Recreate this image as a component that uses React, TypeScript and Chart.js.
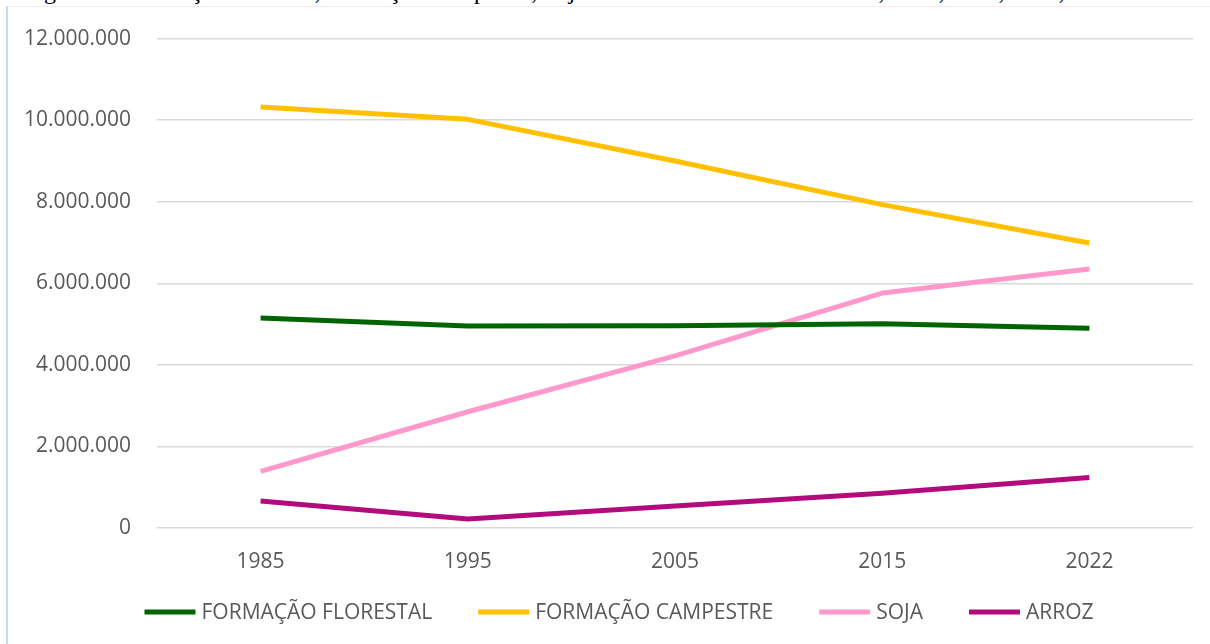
import { useEffect, useRef } from "react";
import { Chart, registerables } from "chart.js";

Chart.register(...registerables);

// Área (ha) por classe de cobertura e ano
const years = ["1985", "1995", "2005", "2015", "2022"];
const florestal = [5150000, 4950000, 4960000, 5010000, 4900000];
const campestre = [10320000, 10020000, 9000000, 7930000, 6990000];
const soja = [1390000, 2850000, 4220000, 5760000, 6350000];
const arroz = [660000, 220000, 540000, 850000, 1240000];

const seriesLabels = ["FORMAÇÃO FLORESTAL", "FORMAÇÃO CAMPESTRE", "SOJA", "ARROZ"];
const seriesColors = ["#006400", "#FFC000", "#FF99CC", "#B30A7C"];

const yMin = 0;
const yMax = 12000000;
const yStep = 2000000;

const caption =
  "Figura 1 – Formação Florestal, Formação Campestre, Soja e Arroz no Rio Grande do Sul, 1985, 1995, 2005, 2015 e 2022";

const FONT = "'Open Sans', 'Noto Sans', sans-serif";
const TEXT_COLOR = "#595959";
const FONT_SIZE = 21;

const formatThousands = (v: number) =>
  Math.round(v)
    .toString()
    .replace(/\B(?=(\d{3})+(?!\d))/g, ".");

// Legend drawn under the axis: a short line sample followed by the series name
const lineLegend = {
  id: "lineLegend",
  afterDraw(chart: any) {
    const { ctx } = chart;
    const sample = 51;
    const gap = 6;
    const spacing = 46;
    const centerX = 619;
    const centerY = 613;
    ctx.save();
    ctx.font = `${FONT_SIZE}px ${FONT}`;
    ctx.textBaseline = "middle";
    ctx.textAlign = "left";
    const items = chart.data.datasets.map((ds: any) => ({
      label: ds.label as string,
      color: ds.borderColor as string,
      width: ctx.measureText(ds.label).width,
    }));
    const total =
      items.reduce((s: number, it: any) => s + sample + gap + it.width, 0) +
      spacing * (items.length - 1);
    let x = centerX - total / 2;
    for (const it of items) {
      ctx.strokeStyle = it.color;
      ctx.lineWidth = 5;
      ctx.lineCap = "butt";
      ctx.beginPath();
      ctx.moveTo(x, centerY - 1);
      ctx.lineTo(x + sample, centerY - 1);
      ctx.stroke();
      ctx.fillStyle = TEXT_COLOR;
      ctx.fillText(it.label, x + sample + gap, centerY);
      x += sample + gap + it.width + spacing;
    }
    ctx.restore();
  },
};

export default function App() {
  const canvasRef = useRef<HTMLCanvasElement | null>(null);

  useEffect(() => {
    const canvas = canvasRef.current;
    if (!canvas) return;
    const values = [florestal, campestre, soja, arroz];
    const chart = new Chart(canvas, {
      type: "line",
      data: {
        labels: years,
        datasets: values.map((data, i) => ({
          label: seriesLabels[i],
          data,
          borderColor: seriesColors[i],
          backgroundColor: seriesColors[i],
          borderWidth: 5,
          borderJoinStyle: "round" as const,
          borderCapStyle: "butt" as const,
          pointRadius: 0,
          pointHoverRadius: 0,
          tension: 0,
          fill: false,
        })),
      },
      options: {
        responsive: false,
        animation: false,
        devicePixelRatio: 1,
        layout: { padding: { top: 36, right: 17, bottom: 66, left: 0 } },
        plugins: {
          legend: { display: false },
          tooltip: { enabled: false },
        },
        scales: {
          x: {
            offset: true,
            grid: { display: false, drawTicks: false },
            border: { display: false },
            ticks: {
              color: TEXT_COLOR,
              font: { family: FONT, size: FONT_SIZE },
              padding: 21,
              maxRotation: 0,
            },
            afterFit: (s: any) => {
              s.height = 50;
            },
          },
          y: {
            min: yMin,
            max: yMax,
            grid: { color: "#d9d9d9", lineWidth: 1.5, drawTicks: false },
            border: { display: false },
            ticks: {
              stepSize: yStep,
              color: TEXT_COLOR,
              font: { family: FONT, size: FONT_SIZE },
              padding: 26,
              callback: (v: any) => formatThousands(Number(v)),
            },
            afterFit: (s: any) => {
              s.width = 157;
            },
          },
        },
      },
      plugins: [lineLegend],
    });
    return () => chart.destroy();
  }, []);

  return (
    <div
      style={{
        position: "fixed",
        left: 0,
        top: 0,
        width: 1210,
        height: 644,
        overflow: "hidden",
        background: "#ffffff",
      }}
    >
      <div
        style={{
          position: "absolute",
          left: 24,
          top: -23,
          whiteSpace: "nowrap",
          fontFamily: "'Liberation Serif', 'Times New Roman', serif",
          fontSize: 24,
          lineHeight: "28px",
          color: "#000000",
        }}
      >
        {caption}
      </div>
      <div
        style={{
          position: "absolute",
          left: 6,
          top: 6,
          width: 1260,
          height: 700,
          borderLeft: "2px solid #c5d9ef",
          borderTop: "1px solid #eeeeee",
          boxSizing: "border-box",
        }}
      />
      <canvas
        ref={canvasRef}
        width={1210}
        height={644}
        style={{ position: "absolute", left: 0, top: 0, width: 1210, height: 644 }}
      />
    </div>
  );
}
